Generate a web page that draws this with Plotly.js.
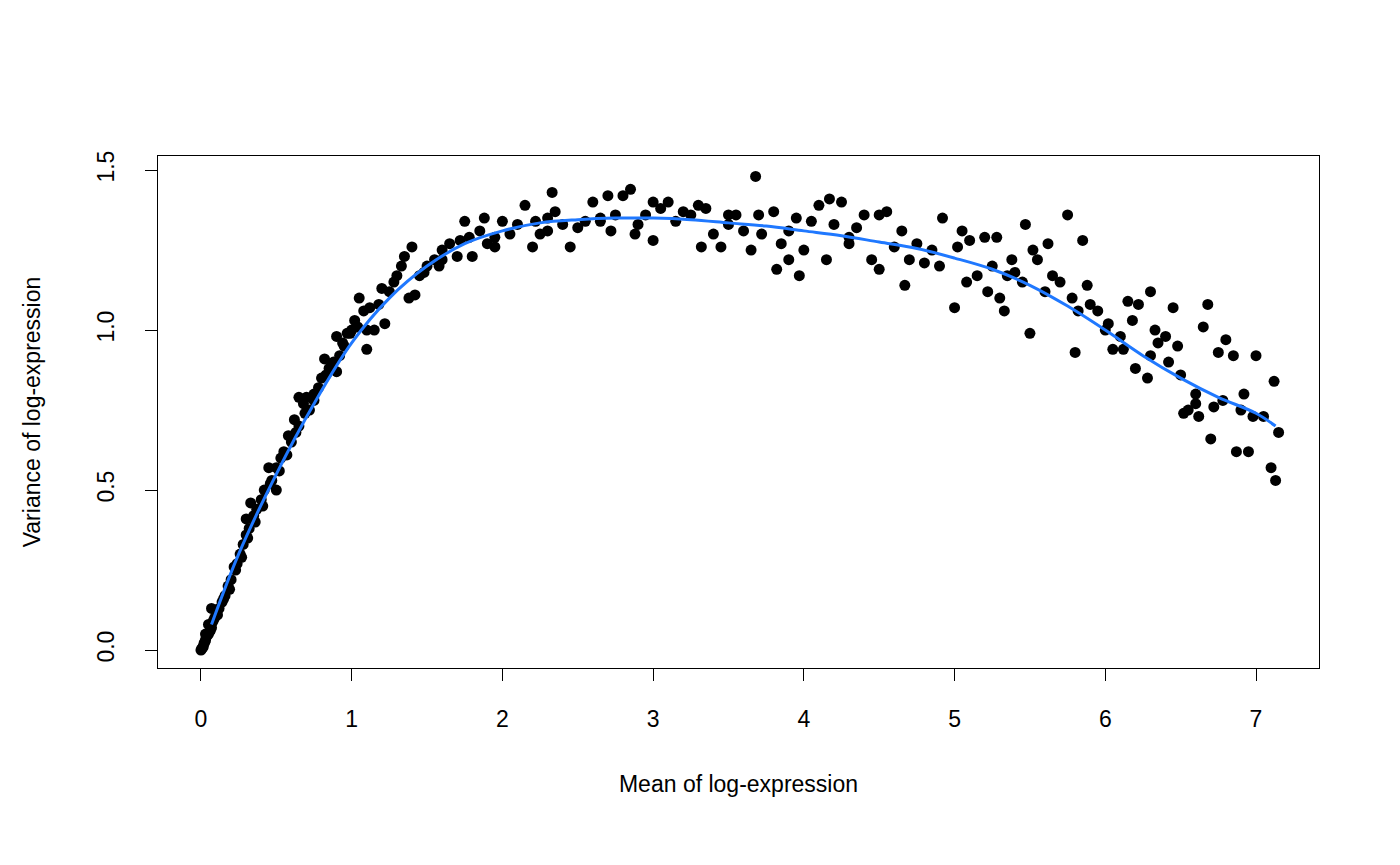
<!DOCTYPE html>
<html>
<head>
<script src="https://cdn.plot.ly/plotly-3.0.1.min.js"></script>
<style>body{margin:0;background:#fff}</style>
</head>
<body>
<div id="plot" style="width:1400px;height:865px"></div>
<script>
// points
var meanX = [0,0.005,0.01,0.015,0.02,0.025,0.03,0.035,0.04,0.05,0.06,0.07,0.08,0.09,0.1,0.05,0.03,0.07,0.12,0.14,0.16,0.18,0.2,0.22,0.24,0.26,0.28,0.3,0.3,0.32,0.33,0.35,0.37,0.4,0.42,0.45,0.47,0.5,0.5,0.53,0.55,0.58,0.6,0.62,0.65,0.68,0.7,0.72,0.75,0.78,0.8,0.82,0.85,0.88,0.9,0.92,0.95,0.97,1.0,1.02,1.05,1.08,1.1,1.12,1.15,1.18,1.2,1.22,1.25,1.28,1.3,1.33,1.35,1.38,1.4,1.42,1.45,1.48,1.5,1.55,1.58,1.6,1.65,1.7,1.72,1.75,1.78,1.8,1.85,1.88,1.9,1.95,2.0,2.05,2.1,2.15,2.2,2.22,2.25,2.3,2.33,2.35,2.4,2.45,2.5,2.55,2.6,2.65,2.7,2.72,2.75,2.8,2.85,2.88,2.9,2.95,3.0,3.0,3.05,3.1,3.15,3.2,3.25,3.3,3.32,3.35,3.4,3.45,3.5,3.55,3.6,3.65,3.68,3.7,3.72,3.8,3.82,3.85,3.9,3.95,3.97,4.0,4.05,4.1,4.15,4.17,4.2,4.25,4.3,4.35,4.4,4.45,4.5,4.5,4.55,4.6,4.65,4.67,4.7,4.75,4.8,4.85,4.9,4.92,5.0,5.02,5.05,5.08,5.1,5.15,5.2,5.22,5.25,5.28,5.3,5.33,5.35,5.38,5.45,5.47,5.5,5.52,5.55,5.6,5.62,5.65,5.7,5.75,5.78,5.8,5.82,5.85,5.88,5.9,5.95,6.0,6.02,6.05,6.1,6.12,6.15,6.18,6.2,6.22,6.28,6.3,6.3,6.33,6.35,6.4,6.42,6.45,6.48,6.5,6.52,6.55,6.6,6.62,6.65,6.68,6.7,6.72,6.75,6.78,6.8,6.85,6.87,6.9,6.92,6.95,6.98,7.0,7.05,7.1,7.12,7.13,7.15,0.65,0.75,0.9,1.1,1.6,1.95,2.3,2.65,3.5,3.9,4.3,5.4,6.6,0.06,0.11,0.15,0.19,0.23,0.27,0.31,0.36,0.41,0.46,0.52,0.57,0.63,0.69,0.74,0.83,0.87,0.94,0.99,1.04];
var varY = [0,0.003,0.008,0.01,0.02,0.025,0.03,0.04,0.045,0.05,0.06,0.07,0.09,0.1,0.12,0.08,0.05,0.13,0.13,0.15,0.17,0.2,0.22,0.26,0.27,0.3,0.33,0.36,0.41,0.38,0.46,0.42,0.44,0.47,0.5,0.57,0.53,0.5,0.57,0.6,0.62,0.67,0.65,0.72,0.7,0.77,0.79,0.75,0.78,0.82,0.85,0.91,0.88,0.9,0.98,0.92,0.95,0.99,1.0,1.03,1.1,1.06,0.94,1.07,1.0,1.08,1.13,1.02,1.12,1.15,1.17,1.2,1.23,1.1,1.26,1.11,1.17,1.18,1.2,1.22,1.2,1.25,1.27,1.23,1.28,1.34,1.29,1.23,1.31,1.35,1.27,1.29,1.34,1.3,1.33,1.39,1.26,1.34,1.3,1.31,1.43,1.37,1.33,1.26,1.32,1.34,1.4,1.35,1.42,1.31,1.36,1.42,1.44,1.3,1.33,1.36,1.28,1.4,1.38,1.4,1.34,1.37,1.36,1.39,1.26,1.38,1.3,1.26,1.36,1.36,1.31,1.25,1.48,1.36,1.3,1.37,1.19,1.27,1.22,1.35,1.17,1.25,1.34,1.39,1.22,1.41,1.33,1.4,1.27,1.32,1.36,1.22,1.19,1.36,1.37,1.26,1.31,1.14,1.22,1.27,1.21,1.25,1.2,1.35,1.07,1.26,1.31,1.15,1.28,1.17,1.29,1.12,1.2,1.29,1.1,1.06,1.17,1.22,1.15,1.33,0.99,1.25,1.22,1.12,1.27,1.17,1.15,1.36,1.1,0.93,1.06,1.28,1.14,1.08,1.06,1.0,1.02,0.94,0.98,0.94,1.09,1.03,0.88,1.08,0.85,1.12,0.92,1.0,0.96,0.98,0.9,1.07,0.95,0.86,0.74,0.75,0.8,0.73,1.01,1.08,0.66,0.76,0.93,0.78,0.97,0.92,0.62,0.75,0.8,0.62,0.73,0.92,0.73,0.57,0.84,0.53,0.68,0.79,0.8,0.87,1.0,1.22,1.26,1.35,1.34,1.33,1.31,1.29,1.18,0.77,0.06,0.11,0.16,0.19,0.25,0.29,0.35,0.4,0.45,0.52,0.56,0.61,0.68,0.74,0.79,0.86,0.89,0.96,0.99,1.01];
// fitted trend
var fitX = [0.07,0.25,0.5,0.75,1,1.25,1.5,1.75,2,2.25,2.5,2.75,3,3.25,3.5,3.75,4,4.25,4.5,4.75,5,5.25,5.5,5.75,6,6.25,6.5,6.75,7,7.13];
var fitY = [0.08,0.3,0.55,0.77,0.96,1.1,1.2,1.27,1.31,1.335,1.345,1.35,1.35,1.345,1.335,1.325,1.31,1.295,1.275,1.255,1.225,1.19,1.14,1.075,1.0,0.92,0.85,0.79,0.74,0.70];

var data = [
  {x: meanX, y: varY, type: 'scatter', mode: 'markers', marker: {color: '#000', size: 11}, hoverinfo: 'skip'},
  {x: fitX, y: fitY, type: 'scatter', mode: 'lines', line: {color: '#1f78ff', width: 3, shape: 'spline'}}
];
var axisStyle = {showgrid: false, zeroline: false, showline: true, mirror: true, linecolor: '#000', linewidth: 1.3,
  ticks: 'outside', ticklen: 12, tickwidth: 1.3, tickcolor: '#000', tickfont: {size: 23, color: '#000'}};
var layout = {
  width: 1400, height: 865,
  margin: {l: 158, r: 81, t: 156, b: 197},
  showlegend: false,
  font: {family: 'Liberation Sans, Arial, sans-serif', color: '#000'},
  xaxis: Object.assign({}, axisStyle, {range: [-0.285, 7.418], dtick: 1, ticklabelstandoff: 18,
    title: {text: 'Mean of log-expression', font: {size: 23}, standoff: 45}}),
  yaxis: Object.assign({}, axisStyle, {range: [-0.056, 1.544], tickvals: [0, 0.5, 1, 1.5], ticktext: ['0.0','0.5','1.0','1.5'],
    tickangle: -90, ticklabelstandoff: 22, title: {text: 'Variance of log-expression', font: {size: 23}, standoff: 45}}),
  plot_bgcolor: '#fff', paper_bgcolor: '#fff'
};
Plotly.newPlot('plot', data, layout, {displayModeBar: false});
</script>
</body>
</html>
